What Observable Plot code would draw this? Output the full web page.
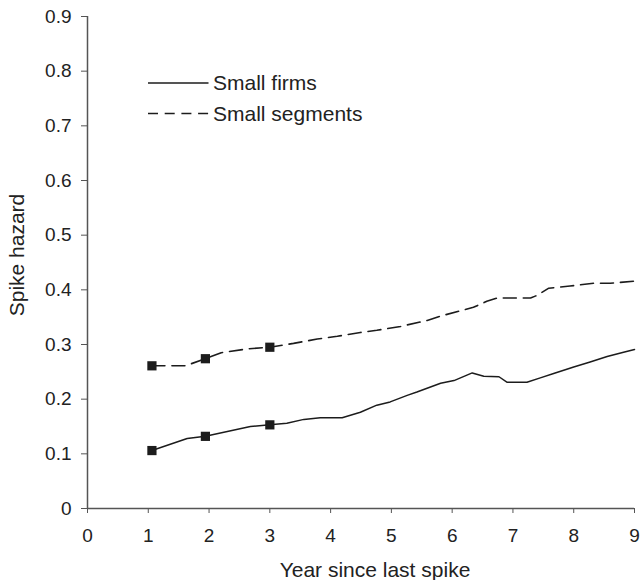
<!DOCTYPE html>
<html>
<head>
<meta charset="utf-8">
<script src="https://cdn.jsdelivr.net/npm/d3@7"></script>
<script src="https://cdn.jsdelivr.net/npm/@observablehq/plot@0.6"></script>
<style>
  html, body { margin: 0; padding: 0; background: #fff; }
  #chart { width: 640px; height: 580px; }
</style>
</head>
<body>
<div id="chart"></div>
<script>
const xTicks = [0, 1, 2, 3, 4, 5, 6, 7, 8, 9];
const yTicks = [0, 0.1, 0.2, 0.3, 0.4, 0.5, 0.6, 0.7, 0.8, 0.9];

const seriesNames = ["Small firms", "Small segments"];

const firmsX = [1.06, 1.64, 1.94, 2.68, 3.0, 3.28, 3.56, 3.83, 4.19, 4.49, 4.76, 4.98, 5.26, 5.42, 5.81, 6.03, 6.33, 6.52, 6.77, 6.9, 7.23, 7.45, 7.67, 8.0, 8.27, 8.55, 8.82, 9.0];
const firmsY = [0.106, 0.128, 0.132, 0.150, 0.153, 0.156, 0.163, 0.166, 0.166, 0.176, 0.189, 0.195, 0.207, 0.213, 0.229, 0.234, 0.248, 0.242, 0.241, 0.231, 0.231, 0.239, 0.247, 0.259, 0.268, 0.278, 0.286, 0.291];

const segX = [1.06, 1.61, 1.94, 2.2, 2.63, 3.0, 3.39, 3.78, 4.11, 4.49, 4.76, 5.15, 5.59, 5.81, 6.35, 6.57, 6.74, 7.29, 7.4, 7.59, 7.94, 8.33, 8.6, 9.0];
const segY = [0.261, 0.261, 0.274, 0.285, 0.292, 0.295, 0.302, 0.31, 0.315, 0.322, 0.326, 0.333, 0.344, 0.352, 0.368, 0.379, 0.385, 0.385, 0.39, 0.403, 0.407, 0.412, 0.412, 0.416];

const markerX = [1.06, 1.94, 3.0];
const firmsMarkerY = [0.106, 0.132, 0.153];
const segMarkerY = [0.261, 0.274, 0.295];

const firms = firmsX.map((x, i) => ({x, y: firmsY[i]}));
const segs = segX.map((x, i) => ({x, y: segY[i]}));
const markers = [
  ...markerX.map((x, i) => ({x, y: firmsMarkerY[i]})),
  ...markerX.map((x, i) => ({x, y: segMarkerY[i]}))
];

const FONT = "Liberation Sans, Arial, Helvetica, sans-serif";
const ink = "#1c1c1c";
const axisColor = "#555";
const textColor = "#222";

const chart = Plot.plot({
  width: 640,
  height: 580,
  marginLeft: 87,
  marginRight: 6,
  marginTop: 16,
  marginBottom: 72,
  style: {fontFamily: FONT, fontSize: "19px", color: textColor, background: "#fff"},
  x: {domain: [0, 9]},
  y: {domain: [0, 0.9]},
  marks: [
    Plot.axisX({ticks: xTicks, tickSize: 5, tickPadding: 15, label: null, stroke: axisColor, fontSize: 19, tickFormat: d => String(d)}),
    Plot.axisY({ticks: yTicks, tickSize: 6, tickPadding: 10, label: null, stroke: axisColor, fontSize: 19, tickFormat: d => String(+d.toFixed(1))}),
    Plot.ruleX([0], {y1: 0, y2: 0.9, stroke: axisColor, strokeWidth: 1.5}),
    Plot.ruleY([0], {x1: 0, x2: 9, stroke: axisColor, strokeWidth: 1.5}),
    Plot.line(firms, {x: "x", y: "y", stroke: ink, strokeWidth: 1.5}),
    Plot.line(segs, {x: "x", y: "y", stroke: ink, strokeWidth: 1.6, strokeDasharray: "13,7"}),
    Plot.dot(markers, {x: "x", y: "y", symbol: "square", r: 5.2, fill: ink, stroke: "none"})
  ]
});

const svg = d3.select(chart);
svg.append("text")
  .attr("x", 375).attr("y", 577)
  .attr("text-anchor", "middle")
  .attr("font-family", FONT).attr("font-size", 21).attr("fill", textColor)
  .text("Year since last spike");
svg.append("text")
  .attr("transform", "translate(24,255) rotate(-90)")
  .attr("text-anchor", "middle")
  .attr("font-family", FONT).attr("font-size", 21).attr("fill", textColor)
  .text("Spike hazard");

const legend = svg.append("g");
const legendStyles = [null, "10,6.7"];
seriesNames.forEach((name, i) => {
  const yy = 83 + i * 30.5;
  const ln = legend.append("line")
    .attr("x1", 148).attr("x2", 208.5).attr("y1", yy).attr("y2", yy)
    .attr("stroke", ink).attr("stroke-width", 1.5);
  if (legendStyles[i]) ln.attr("stroke-dasharray", legendStyles[i]);
  legend.append("text")
    .attr("x", 213).attr("y", yy + 7)
    .attr("text-anchor", "start")
    .attr("font-family", FONT).attr("font-size", 21).attr("fill", textColor)
    .text(name);
});

document.getElementById("chart").appendChild(chart);
</script>
</body>
</html>
